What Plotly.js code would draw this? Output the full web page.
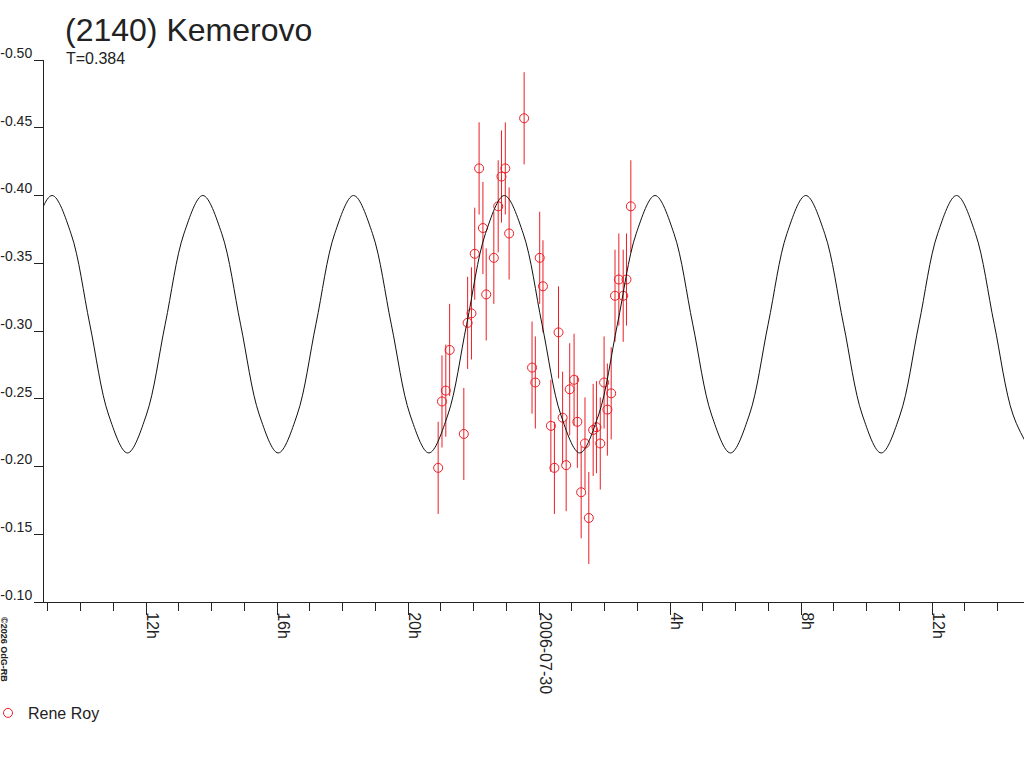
<!DOCTYPE html>
<html>
<head>
<meta charset="utf-8">
<script src="https://cdn.plot.ly/plotly-3.0.1.min.js"></script>
<style>
html,body{margin:0;padding:0;background:#fff;}
#chart{width:1024px;height:768px;}
</style>
</head>
<body>
<div id="chart"></div>
<script>
// Observations (Rene Roy)
const obsTime = [
'2006-07-29 20:55','2006-07-29 21:02','2006-07-29 21:09','2006-07-29 21:16','2006-07-29 21:42',
'2006-07-29 21:49','2006-07-29 21:56','2006-07-29 22:02','2006-07-29 22:10','2006-07-29 22:17',
'2006-07-29 22:23','2006-07-29 22:37','2006-07-29 22:45','2006-07-29 22:51','2006-07-29 22:58',
'2006-07-29 23:05','2006-07-29 23:32:30','2006-07-29 23:47','2006-07-29 23:53','2006-07-30 00:01',
'2006-07-30 00:07','2006-07-30 00:21:30','2006-07-30 00:28','2006-07-30 00:35:30','2006-07-30 00:43',
'2006-07-30 00:49:30','2006-07-30 00:56','2006-07-30 01:04','2006-07-30 01:10','2006-07-30 01:17',
'2006-07-30 01:24','2006-07-30 01:31','2006-07-30 01:39','2006-07-30 01:45','2006-07-30 01:52',
'2006-07-30 01:59','2006-07-30 02:05','2006-07-30 02:12','2006-07-30 02:19','2006-07-30 02:26',
'2006-07-30 02:34','2006-07-30 02:40','2006-07-30 02:48'];
const obsMag = [
-0.199,-0.248,-0.256,-0.286,-0.224,
-0.306,-0.313,-0.357,-0.420,-0.376,
-0.327,-0.354,-0.392,-0.414,-0.420,
-0.372,-0.457,-0.273,-0.262,-0.354,
-0.333,-0.230,-0.199,-0.299,-0.236,
-0.201,-0.257,-0.264,-0.233,-0.181,
-0.217,-0.162,-0.227,-0.229,-0.217,
-0.262,-0.242,-0.254,-0.326,-0.338,
-0.326,-0.338,-0.392];
const obsErr = [
0.034,0.034,0.034,0.034,0.034,0.034,0.034,0.034,0.034,0.034,
0.034,0.034,0.034,0.034,0.034,0.034,0.034,0.034,0.034,0.034,
0.034,0.034,0.034,0.034,0.034,0.034,0.034,0.034,0.034,0.034,
0.034,0.034,0.034,0.034,0.034,0.034,0.034,0.034,0.034,0.034,
0.034,0.034,0.034];

// Model curve (hours after 2006-07-29 00:00)
const fitHours = [
6.827,7.402,7.978,8.553,9.128,9.704,10.279,10.855,
11.430,12.005,12.581,13.156,13.731,14.307,14.882,15.458,
16.033,16.608,17.184,17.759,18.334,18.910,19.485,20.061,
20.636,21.211,21.787,22.362,22.937,23.513,24.088,24.664,
25.239,25.814,26.390,26.965,27.540,28.116,28.691,29.267,
29.842,30.417,30.993,31.568,32.143,32.719,33.294,33.870,
34.445,35.020,35.596,36.171,36.746,37.322,37.897,38.473,
39.048];
const fitMag = [
-0.210,-0.238,-0.305,-0.372,-0.400,-0.372,-0.305,-0.238,
-0.210,-0.238,-0.305,-0.372,-0.400,-0.372,-0.305,-0.238,
-0.210,-0.238,-0.305,-0.372,-0.400,-0.372,-0.305,-0.238,
-0.210,-0.238,-0.305,-0.372,-0.400,-0.372,-0.305,-0.238,
-0.210,-0.238,-0.305,-0.372,-0.400,-0.372,-0.305,-0.238,
-0.210,-0.238,-0.305,-0.372,-0.400,-0.372,-0.305,-0.238,
-0.210,-0.238,-0.305,-0.372,-0.400,-0.372,-0.305,-0.238,
-0.210];

const xTickVals = ['2006-07-29 12:00','2006-07-29 16:00','2006-07-29 20:00','2006-07-30 00:00',
                   '2006-07-30 04:00','2006-07-30 08:00','2006-07-30 12:00'];
const xTickText = ['12h','16h','20h','2006-07-30','4h','8h','12h'];
const yTickVals = [-0.50,-0.45,-0.40,-0.35,-0.30,-0.25,-0.20,-0.15,-0.10];
const yTickText = ['-0.50','-0.45','-0.40','-0.35','-0.30','-0.25','-0.20','-0.15','-0.10'];

const baseMs = Date.UTC(2006, 6, 29, 0, 0, 0);
const fitTime = fitHours.map(h => new Date(baseMs + Math.round(h * 3600000)).toISOString().replace('T', ' ').slice(0, 19));

const RED = 'rgb(236,30,36)';
const INK = '#222222';
const FONT = 'Liberation Sans, Arial, Helvetica, sans-serif';

const traces = [
  {
    type: 'scatter', mode: 'markers', name: 'Rene Roy',
    x: obsTime, y: obsMag,
    marker: {symbol: 'circle-open', size: 9, color: RED, line: {width: 1, color: RED}},
    error_y: {type: 'data', array: obsErr, visible: true, color: RED, thickness: 1, width: 0},
    showlegend: true, hoverinfo: 'x+y'
  },
  {
    type: 'scatter', mode: 'lines', name: 'fit',
    x: fitTime, y: fitMag,
    line: {color: '#111111', width: 1, shape: 'spline', smoothing: 1},
    showlegend: false, hoverinfo: 'skip'
  }
];

const layout = {
  width: 1024, height: 768,
  margin: {l: 44, r: 0, t: 60, b: 166, pad: 0, autoexpand: false},
  paper_bgcolor: '#ffffff', plot_bgcolor: '#ffffff',
  font: {family: FONT, size: 16, color: INK},
  title: {
    text: '(2140) Kemerovo',
    font: {family: FONT, size: 32, color: INK},
    xref: 'container', yref: 'container',
    x: 65 / 1024, xanchor: 'left',
    y: 1 - 30 / 768, yanchor: 'middle'
  },
  xaxis: {
    type: 'date',
    range: ['2006-07-29 08:52:50', '2006-07-30 14:48:20'],
    tickmode: 'array', tickvals: xTickVals, ticktext: xTickText,
    tickangle: 90, ticks: 'outside', ticklen: 12, tickwidth: 1, tickcolor: INK,
    ticklabelshift: 6, ticklabelstandoff: -6,
    tickfont: {family: FONT, size: 16, color: INK},
    minor: {dtick: 3600000, tick0: '2006-07-29 00:00', ticks: 'outside', ticklen: 8, tickwidth: 1, tickcolor: INK, showgrid: false},
    showline: true, linecolor: INK, linewidth: 1,
    showgrid: false, zeroline: false, fixedrange: true, automargin: false
  },
  yaxis: {
    range: [-0.10, -0.50],
    tickmode: 'array', tickvals: yTickVals, ticktext: yTickText,
    ticks: 'outside', ticklen: 9, tickwidth: 1, tickcolor: INK,
    ticklabelshift: 7, ticklabelstandoff: -1,
    tickfont: {family: FONT, size: 14, color: INK},
    showline: true, linecolor: INK, linewidth: 1,
    showgrid: false, zeroline: false, fixedrange: true, automargin: false
  },
  showlegend: true,
  legend: {
    x: (-12 - 44) / 980, y: -(713 - 602) / 542, xref: 'paper', yref: 'paper',
    xanchor: 'left', yanchor: 'middle',
    font: {family: FONT, size: 16, color: INK},
    bgcolor: 'rgba(0,0,0,0)', borderwidth: 0, itemwidth: 30
  },
  annotations: [
    {
      text: 'T=0.384', xref: 'paper', yref: 'paper',
      x: (64 - 44) / 980, y: 1 + (60 - 58) / 542,
      xanchor: 'left', yanchor: 'middle', showarrow: false,
      font: {family: FONT, size: 16, color: INK}
    },
    {
      text: '<b>©2026 OdG-RB</b>', xref: 'paper', yref: 'paper',
      x: (4 - 44) / 980, y: -(649 - 602) / 542,
      xanchor: 'center', yanchor: 'middle', textangle: 90, showarrow: false,
      font: {family: FONT, size: 9, color: INK}
    }
  ]
};

Plotly.newPlot('chart', traces, layout, {staticPlot: true, displayModeBar: false});
</script>
</body>
</html>
